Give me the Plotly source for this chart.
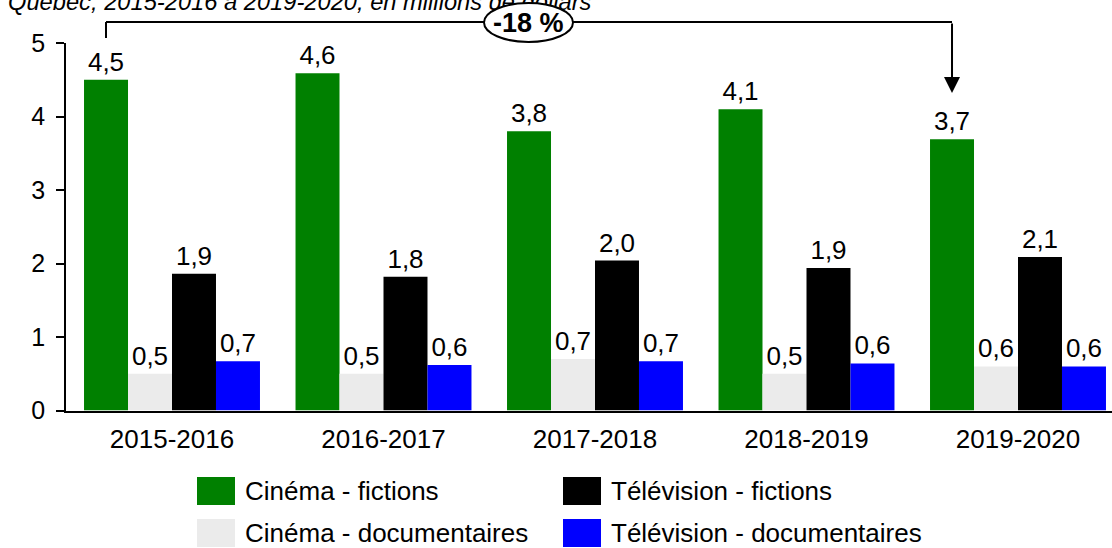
import plotly.graph_objects as go

# ---------------- data ----------------
years = ["2015-2016", "2016-2017", "2017-2018", "2018-2019", "2019-2020"]
series_names = ["Cinéma - fictions", "Cinéma - documentaires",
                "Télévision - fictions", "Télévision - documentaires"]
cinema_fictions = [4.50, 4.59, 3.80, 4.10, 3.69]
cinema_docs = [0.50, 0.50, 0.70, 0.50, 0.60]
tele_fictions = [1.86, 1.82, 2.04, 1.94, 2.09]
tele_docs = [0.67, 0.62, 0.67, 0.64, 0.60]
series_values = [cinema_fictions, cinema_docs, tele_fictions, tele_docs]
colors = ["#008000", "#EBEBEB", "#000000", "#0000FF"]
y_ticks = [0, 1, 2, 3, 4, 5]
change_label = "-18 %"
subtitle = "Québec, 2015-2016 à 2019-2020, en millions de dollars"

FONT = "Liberation Sans, Arial, sans-serif"
W, H = 1112, 548
# plot area in pixels (figure uses zero margins and explicit domains)
PL, PR, PT, PB = 66.25, 1112.0, 43.0, 410.5
CAT_W = 211.5
YMAX = 5

def fx(px):
    return px / W

def fy(py):
    return 1 - py / H

def cat_to_px(pos):
    return PL + (pos + 0.5) * CAT_W

fig = go.Figure()
for name, vals, col in zip(series_names, series_values, colors):
    fig.add_trace(go.Bar(
        x=years, y=vals, name=name, marker=dict(color=col, line=dict(width=0)),
        texttemplate="%{y:.1f}", textposition="outside",
        textfont=dict(size=26, color="black", family=FONT),
        cliponaxis=False, showlegend=False,
    ))

# subtitle as a text trace in a top strip (so the ellipse shape can cover it)
fig.add_trace(go.Scatter(
    x=[fx(8)], y=[0.91], mode="text", text=[subtitle],
    textposition="middle right", xaxis="x3", yaxis="y3",
    marker=dict(size=1),
    textfont=dict(size=23.7, family=FONT, color="black", style="italic"),
    cliponaxis=False, showlegend=False, hoverinfo="skip",
))

shapes = []
annotations = []

# change arrow between first and last cinema-fiction bars
n = len(series_names)
bargap = 0.168
group = 1 - bargap
bw = group / n
off0 = -group / 2 + bw / 2
x_first = cat_to_px(0 + off0)
x_last = cat_to_px(len(years) - 1 + off0)
y_line = 22
shapes.append(dict(type="line", xref="paper", yref="paper",
                   x0=fx(x_first), x1=fx(x_first), y0=fy(38), y1=fy(y_line),
                   line=dict(color="black", width=2)))
shapes.append(dict(type="line", xref="paper", yref="paper",
                   x0=fx(x_first), x1=fx(x_last), y0=fy(y_line), y1=fy(y_line),
                   line=dict(color="black", width=2)))
tip = 93
annotations.append(dict(xref="paper", yref="paper", x=fx(x_last), y=fy(tip),
                        ax=0, ay=-(tip - y_line), text="", showarrow=True,
                        arrowhead=2, arrowsize=1.6, arrowwidth=2,
                        arrowcolor="black", standoff=0))
# ellipse
shapes.append(dict(type="circle", xref="paper", yref="paper",
                   x0=fx(484), x1=fx(573), y0=fy(42), y1=fy(3),
                   fillcolor="white", line=dict(color="black", width=2),
                   layer="above"))
annotations.append(dict(xref="paper", yref="paper", x=fx(528.5), y=fy(23),
                        text="<b>" + change_label + "</b>", showarrow=False,
                        font=dict(size=27, family=FONT, color="black"),
                        xanchor="center", yanchor="middle"))

# manual legend
leg_pos = [(197, 477), (197, 519), (563, 477), (563, 519)]
for (lx, ly), name, col in zip(leg_pos, series_names, colors):
    shapes.append(dict(type="rect", xref="paper", yref="paper",
                       x0=fx(lx), x1=fx(lx + 38), y0=fy(ly + 28), y1=fy(ly),
                       fillcolor=col, line=dict(width=0)))
    annotations.append(dict(xref="paper", yref="paper", x=fx(lx + 46),
                            y=fy(ly + 14), text=name, showarrow=False,
                            xanchor="left", yanchor="middle",
                            font=dict(size=26, family=FONT, color="black")))

fig.update_layout(
    width=W, height=H, autosize=False,
    margin=dict(l=0, r=0, t=0, b=0, pad=0, autoexpand=False),
    paper_bgcolor="white", plot_bgcolor="rgba(0,0,0,0)",
    separators=", ",
    barmode="group", bargap=bargap, bargroupgap=0,
    font=dict(family=FONT, size=26, color="black"),
    xaxis=dict(type="category", domain=[fx(PL), fx(PR)],
               range=[-0.5, -0.5 + (PR - PL) / CAT_W],
               showline=True, linecolor="black", linewidth=2,
               ticks="", showgrid=False, zeroline=False, ticklabelstandoff=4,
               automargin=False,
               tickfont=dict(size=26, family=FONT, color="black")),
    yaxis=dict(domain=[fy(PB), fy(PT)], range=[0, YMAX], tickvals=y_ticks,
               showline=True, linecolor="black", linewidth=2,
               ticks="outside", ticklen=8, tickwidth=2, tickcolor="black",
               showgrid=False, zeroline=False, ticklabelstandoff=6,
               automargin=False,
               tickfont=dict(size=25, family=FONT, color="black")),
    xaxis3=dict(domain=[0, 1], range=[0, 1], anchor="y3", visible=False,
                fixedrange=True, automargin=False),
    yaxis3=dict(domain=[fy(40), 1], range=[0, 1], anchor="x3", visible=False,
                fixedrange=True, automargin=False),
    shapes=shapes, annotations=annotations,
)

fig.write_html("out.html", config={"displayModeBar": False, "responsive": False},
               post_script="document.body.style.margin='0px';")
